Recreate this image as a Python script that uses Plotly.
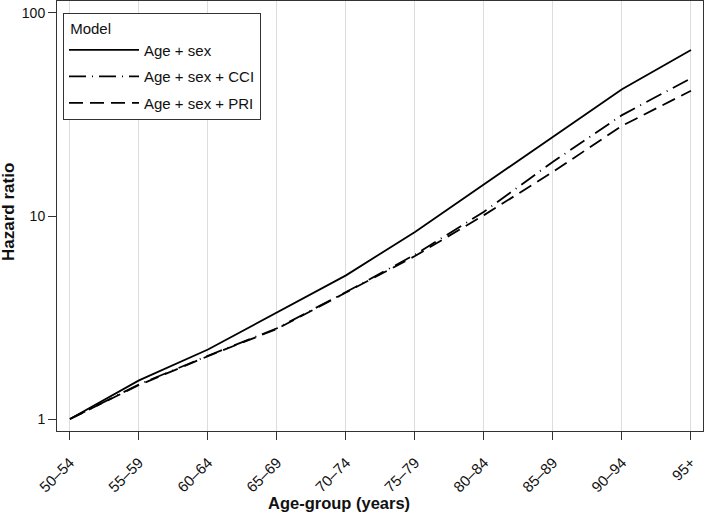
import plotly.graph_objects as go

age_groups = ["50–54", "55–59", "60–64", "65–69", "70–74", "75–79", "80–84", "85–89", "90–94", "95+"]
hr_age_sex = [1.0, 1.55, 2.2, 3.35, 5.1, 8.35, 14.3, 24.6, 42.1, 65.7]
hr_cci = [1.0, 1.48, 2.05, 2.8, 4.22, 6.45, 10.5, 18.5, 31.4, 47.7]
hr_pri = [1.0, 1.47, 2.04, 2.78, 4.2, 6.35, 10.1, 16.5, 27.8, 41.4]
series_names = ["Age + sex", "Age + sex + CCI", "Age + sex + PRI"]
y_tick_vals = [1, 10, 100]
y_tick_text = ["1", "10", "100"]
x_title = "Age-group (years)"
y_title = "Hazard ratio"

FONT = "Liberation Sans, Arial, sans-serif"
TXT = "#111111"
dashes = ["solid", "17px,6px,1px,6px", "14px,7px"]

fig = go.Figure()
for name, vals, dash in zip(series_names, [hr_age_sex, hr_cci, hr_pri], dashes):
    fig.add_trace(go.Scatter(
        x=list(range(len(age_groups))), y=vals, mode="lines", name=name,
        legendgroup=name,
        line=dict(color="#000000", width=1.8, dash=dash),
    ))

fig.update_layout(
    width=704, height=513,
    margin=dict(l=57, r=1, t=1, b=82, autoexpand=False),
    paper_bgcolor="white", plot_bgcolor="white",
    font=dict(family=FONT, size=14, color=TXT),
    showlegend=True,
    legend=dict(
        x=0.0093, y=0.972, xanchor="left", yanchor="top",
        bgcolor="white", bordercolor="#333333", borderwidth=1,
        title=dict(text=" Model", font=dict(family=FONT, size=15, color=TXT)),
        font=dict(family=FONT, size=15, color=TXT),
        tracegroupgap=4, itemwidth=70,
    ),
    xaxis=dict(
        range=[-0.188, 9.174], automargin=False,
        tickmode="array", tickvals=list(range(len(age_groups))), ticktext=age_groups,
        tickangle=-45, ticks="outside", ticklen=8, tickcolor="#333333",
        ticklabelstandoff=8,
        showgrid=True, gridcolor="#dcdcdc", gridwidth=1,
        showline=True, linecolor="#333333", linewidth=1, mirror=True,
        zeroline=False,
        tickfont=dict(family=FONT, size=15, color=TXT),
    ),
    yaxis=dict(
        type="log", range=[-0.059, 2.059], automargin=False,
        tickmode="array", tickvals=y_tick_vals, ticktext=y_tick_text,
        ticks="outside", ticklen=8, tickcolor="#333333",
        showgrid=False,
        showline=True, linecolor="#333333", linewidth=1, mirror=True,
        zeroline=False,
        tickfont=dict(family=FONT, size=14, color=TXT),
    ),
    annotations=[
        dict(text="<b>" + x_title + "</b>", xref="paper", yref="paper",
             x=0.4365, y=-0.167, xanchor="center", yanchor="middle",
             showarrow=False, font=dict(family=FONT, size=16.5, color=TXT)),
        dict(text="<b>" + y_title + "</b>", xref="paper", yref="paper",
             x=-0.0751, y=0.5105, xanchor="center", yanchor="middle", textangle=-90,
             showarrow=False, font=dict(family=FONT, size=17, color=TXT)),
    ],
)

fig.write_html("out.html", config={"displayModeBar": False},
               post_script="document.body.style.margin='0';document.body.style.padding='0';")
